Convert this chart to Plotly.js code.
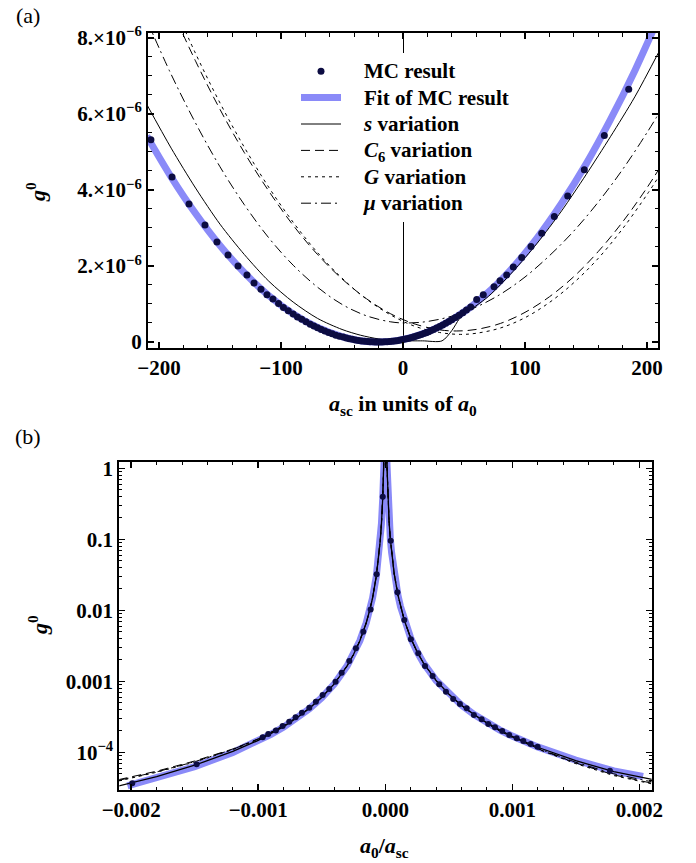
<!DOCTYPE html>
<html><head><meta charset="utf-8">
<script src="https://cdn.plot.ly/plotly-3.0.1.min.js"></script>
<style>body{margin:0;background:#fff}</style></head>
<body><div id="chart" style="width:696px;height:863px"></div>
<script>
// ---------- Panel (a): g0 (in units of 1e-6) vs a_sc (units of a0) ----------
const xMCa = [-206.6,-189.3,-175.4,-162.3,-152.5,-143.4,-135.2,-127.9,-122.1,-116.4,-111.5,-106.6,
  -102,-98,-94,-90,-86.5,-83,-79.5,-76,-73,-70,-67,-64,-61,-58,-55,-52,-49,-46.5,-44,-41.5,-39,-36.5,-34,-31.5,-29,-27,-25,-23,-21,
  -19,-17,-15,-13,-11,-9,-7,-5,-3,-1,1,3,5,7,9,11,13,15,17,19,21,23,25,27.5,30,32.5,35,37.5,40,43,46,49,52,55.5,
  60.4,65.8,74.6,79.5,85,90.4,97.3,104.9,113.7,124,135,148.6,165,185];
const yMCa = [5.32,4.34,3.63,3.08,2.63,2.29,2.0,1.76,1.55,1.39,1.24,1.13,
  1.01,0.91,0.82,0.735,0.66,0.60,0.53,0.47,0.42,0.375,0.33,0.29,0.25,0.22,0.18,0.15,0.13,0.105,0.086,0.069,0.054,0.041,0.029,0.020,0.012,0.007,0.004,0.001,0.0,
  0.0,0.001,0.004,0.008,0.013,0.02,0.027,0.036,0.047,0.058,0.071,0.086,0.10,0.118,0.136,0.156,0.176,0.198,0.222,0.246,0.272,0.30,0.328,0.365,0.405,0.446,0.49,0.536,0.583,0.643,0.706,0.771,0.84,0.923,
  1.12,1.24,1.455,1.61,1.76,1.97,2.22,2.51,2.86,3.30,3.84,4.53,5.43,6.65];

const xFitA = [-210,-190,-170,-150,-130,-110,-90,-70,-50,-35,-20,-5,10,30,50,70,90,110,130,150,170,190,210];
const yFitA = [5.42,4.34,3.38,2.54,1.82,1.22,0.74,0.38,0.14,0.034,0,0.036,0.146,0.405,0.79,1.31,1.96,2.74,3.65,4.68,5.85,7.14,8.57];

const xSa = [-210,-190,-170,-150,-130,-110,-90,-70,-50,-35,-20,-5,0,16,32,40,46,50,70,90,110,130,150,170,190,210];
const ySa = [6.25,5.1,4.05,3.1,2.3,1.6,1.05,0.62,0.33,0.18,0.08,0.03,0.03,0.03,0.03,0.3,0.6,0.72,1.2,1.85,2.6,3.45,4.4,5.4,6.45,7.65];

const xC6a = [-190,-170,-150,-130,-110,-90,-70,-50,-30,-10,10,30,44,60,80,100,120,140,160,180,200,210];
const yC6a = [8.78,7.39,6.12,4.98,3.97,3.07,2.30,1.66,1.14,0.74,0.47,0.32,0.29,0.33,0.49,0.78,1.19,1.72,2.38,3.16,4.06,4.56];

const xGa = [-190,-170,-150,-130,-110,-90,-70,-50,-30,-10,10,30,47,60,80,100,120,140,160,180,200,210];
const yGa = [9.02,7.59,6.29,5.12,4.07,3.15,2.35,1.68,1.13,0.71,0.41,0.25,0.2,0.23,0.37,0.64,1.04,1.56,2.2,2.98,3.88,4.37];

const xMuA = [-210,-190,-170,-150,-130,-110,-90,-70,-50,-30,-10,3,20,40,60,80,100,120,140,160,180,200,210];
const yMuA = [8.47,7.04,5.76,4.61,3.61,2.74,2.02,1.44,0.99,0.69,0.53,0.5,0.54,0.68,0.92,1.26,1.71,2.27,2.92,3.68,4.54,5.51,6.03];

const tickValsAy = [0,2,4,6,8];
const tickTextAy = ['0','2.×10<sup>−6</sup>','4.×10<sup>−6</sup>','6.×10<sup>−6</sup>','8.×10<sup>−6</sup>'];
const tickValsAx = [-200,-100,0,100,200];
const tickTextAx = ['−200','−100','0','100','200'];

// ---------- Panel (b): g0 vs a0/a_sc ----------
const uMCb = [-1.992e-3,-1.485e-3,-0.965e-3,-0.921e-3,-0.861e-3,-0.808e-3,-0.756e-3,-0.706e-3,-0.656e-3,-0.598e-3,-0.546e-3,-0.493e-3,-0.441e-3,-0.391e-3,-0.343e-3,-0.283e-3,-0.231e-3,-0.173e-3,-0.115e-3,-0.068e-3,-0.0195e-3,
  0.043e-3,0.096e-3,0.150e-3,0.202e-3,0.260e-3,0.313e-3,0.373e-3,0.425e-3,0.478e-3,0.535e-3,0.588e-3,0.641e-3,0.698e-3,0.759e-3,0.811e-3,0.864e-3,0.921e-3,0.976e-3,1.035e-3,1.087e-3,1.145e-3,1.2e-3,1.769e-3];
const gMCb = [3.66e-5,6.78e-5,1.63e-4,1.81e-4,2.02e-4,2.35e-4,2.70e-4,3.11e-4,3.61e-4,4.25e-4,5.16e-4,6.42e-4,7.8e-4,9.87e-4,1.32e-3,1.93e-3,2.92e-3,5.0e-3,1.03e-2,3.21e-2,0.398,
  0.0955,1.80e-2,7.3e-3,3.91e-3,2.48e-3,1.64e-3,1.19e-3,9.08e-4,7.14e-4,5.63e-4,4.79e-4,4.17e-4,3.35e-4,2.92e-4,2.50e-4,2.25e-4,2.0e-4,1.75e-4,1.57e-4,1.44e-4,1.31e-4,1.2e-4,5.51e-5];

const uFitB = [-0.00203,-0.0018,-0.0015,-0.0012,-0.001,-0.0009,-0.0008,-0.0007,-0.0006,-0.0005,-0.0004,-0.0003,-0.00025,-0.0002,-0.00015,-0.00012,-0.0001,-0.00007,-0.00005,-0.00004,-0.00003,-0.00002,-0.00001,-0.000005,
  0.000005,0.00001,0.00002,0.00003,0.00004,0.00005,0.00007,0.0001,0.00012,0.00015,0.0002,0.00025,0.0003,0.0004,0.0005,0.0006,0.0007,0.0008,0.0009,0.001,0.0012,0.0015,0.0018,0.00203];
const gFitB = [3.35e-5,4.30e-5,6.27e-5,9.92e-5,1.44e-4,1.79e-4,2.27e-4,2.98e-4,4.07e-4,5.88e-4,9.23e-4,1.65e-3,2.38e-3,3.72e-3,6.63e-3,1.04e-2,1.49e-2,3.05e-2,5.99e-2,9.36e-2,0.166,0.375,1.5,6.0,
  6.5,1.62,0.405,0.180,0.101,0.0649,0.0332,0.0163,0.0113,7.24e-3,4.08e-3,2.62e-3,1.82e-3,1.03e-3,6.61e-4,4.61e-4,3.40e-4,2.61e-4,2.07e-4,1.69e-4,1.19e-4,7.75e-5,5.45e-5,4.55e-5];

const uB = [-0.0021,-0.0018,-0.0015,-0.0012,-0.001,-0.0009,-0.0008,-0.0007,-0.0006,-0.0005,-0.0004,-0.0003,-0.00025,-0.0002,-0.00015,-0.00012,-0.0001,-0.00007,-0.00005,-0.00004,-0.00003,-0.00002,-0.00001,-0.000005,
  0.000005,0.00001,0.00002,0.00003,0.00004,0.00005,0.00007,0.0001,0.00012,0.00015,0.0002,0.00025,0.0003,0.0004,0.0005,0.0006,0.0007,0.0008,0.0009,0.001,0.0012,0.0015,0.0018,0.0021];
const gSb = [3.34e-5,4.55e-5,6.57e-5,1.027e-4,1.473e-4,1.82e-4,2.30e-4,3.02e-4,4.11e-4,5.92e-4,9.27e-4,1.65e-3,2.38e-3,3.72e-3,6.63e-3,1.04e-2,1.49e-2,3.05e-2,5.99e-2,9.36e-2,0.166,0.375,1.5,6.0,
  6.5,1.62,0.405,0.180,0.101,0.0649,0.0332,0.0163,0.0113,7.24e-3,4.08e-3,2.62e-3,1.82e-3,1.03e-3,6.61e-4,4.61e-4,3.40e-4,2.61e-4,2.07e-4,1.678e-4,1.177e-4,7.61e-5,5.32e-5,4.15e-5];
const gC6b = [4.11e-5,5.41e-5,7.54e-5,1.113e-4,1.544e-4,1.896e-4,2.377e-4,3.08e-4,4.16e-4,5.96e-4,9.29e-4,1.65e-3,2.38e-3,3.72e-3,6.63e-3,1.04e-2,1.49e-2,3.05e-2,5.99e-2,9.36e-2,0.166,0.375,1.5,6.0,
  6.5,1.62,0.405,0.180,0.101,0.0649,0.0332,0.0163,0.0113,7.24e-3,4.08e-3,2.62e-3,1.82e-3,1.03e-3,6.56e-4,4.56e-4,3.35e-4,2.55e-4,2.014e-4,1.632e-4,1.123e-4,7.07e-5,4.80e-5,3.66e-5];
const gGb = [3.93e-5,5.23e-5,7.28e-5,1.087e-4,1.525e-4,1.874e-4,2.356e-4,3.06e-4,4.15e-4,5.95e-4,9.28e-4,1.65e-3,2.38e-3,3.72e-3,6.63e-3,1.04e-2,1.49e-2,3.05e-2,5.99e-2,9.36e-2,0.166,0.375,1.5,6.0,
  6.5,1.62,0.405,0.180,0.101,0.0649,0.0332,0.0163,0.0113,7.24e-3,4.08e-3,2.62e-3,1.82e-3,1.03e-3,6.56e-4,4.55e-4,3.34e-4,2.545e-4,2.004e-4,1.621e-4,1.11e-4,6.91e-5,4.69e-5,3.58e-5];
const gMub = [4.02e-5,5.29e-5,7.37e-5,1.100e-4,1.536e-4,1.883e-4,2.365e-4,3.07e-4,4.16e-4,5.95e-4,9.28e-4,1.65e-3,2.38e-3,3.72e-3,6.63e-3,1.04e-2,1.49e-2,3.05e-2,5.99e-2,9.36e-2,0.166,0.375,1.5,6.0,
  6.5,1.62,0.405,0.180,0.101,0.0649,0.0332,0.0163,0.0113,7.24e-3,4.08e-3,2.62e-3,1.82e-3,1.03e-3,6.58e-4,4.58e-4,3.36e-4,2.568e-4,2.028e-4,1.644e-4,1.136e-4,7.23e-5,4.97e-5,3.83e-5];

const tickValsBy = [1e-4,1e-3,1e-2,0.1,1];
const tickTextBy = ['10<sup>−4</sup>','0.001','0.01','0.1','1'];
const tickValsBx = [-0.002,-0.001,0,0.001,0.002];
const tickTextBx = ['−0.002','−0.001','0.000','0.001','0.002'];

const legendNames = ['MC result','Fit of MC result','<i>s</i> variation','<i>C</i><sub>6</sub> variation','<i>G</i> variation','<i>μ</i> variation'];

// ---------- styling ----------
const FAM = 'Liberation Serif, Times New Roman, serif';
const fitColor = 'rgb(138,138,248)';
const dotColor = '#0c0c42';
const lg = s => '\u00a0\u00a0\u00a0\u00a0<span style="font-size:21px">' + s + '</span>';

const traces = [
  {x:xFitA, y:yFitA, xaxis:'x', yaxis:'y', mode:'lines', line:{color:fitColor, width:7, shape:'spline'}, name:lg(legendNames[1]), legendrank:2},
  {x:xSa, y:ySa, xaxis:'x', yaxis:'y', mode:'lines', line:{color:'#000', width:1, shape:'spline', smoothing:0.8}, name:lg(legendNames[2]), legendrank:3},
  {x:xC6a, y:yC6a, xaxis:'x', yaxis:'y', mode:'lines', line:{color:'#000', width:1, dash:'9px,5px', shape:'spline'}, name:lg(legendNames[3]), legendrank:4},
  {x:xGa, y:yGa, xaxis:'x', yaxis:'y', mode:'lines', line:{color:'#000', width:1, dash:'3px,4px', shape:'spline'}, name:lg(legendNames[4]), legendrank:5},
  {x:xMuA, y:yMuA, xaxis:'x', yaxis:'y', mode:'lines', line:{color:'#000', width:1, dash:'10px,4px,2px,4px', shape:'spline'}, name:lg(legendNames[5]), legendrank:6},
  {x:xMCa, y:yMCa, xaxis:'x', yaxis:'y', mode:'markers', marker:{color:dotColor, size:7}, name:lg(legendNames[0]), legendrank:1},

  {x:uFitB, y:gFitB, xaxis:'x2', yaxis:'y2', mode:'lines', line:{color:fitColor, width:7}, showlegend:false},
  {x:uB, y:gC6b, xaxis:'x2', yaxis:'y2', mode:'lines', line:{color:'#000', width:1, dash:'9px,5px'}, showlegend:false},
  {x:uB, y:gGb, xaxis:'x2', yaxis:'y2', mode:'lines', line:{color:'#000', width:1, dash:'3px,4px'}, showlegend:false},
  {x:uB, y:gMub, xaxis:'x2', yaxis:'y2', mode:'lines', line:{color:'#000', width:1, dash:'10px,4px,2px,4px'}, showlegend:false},
  {x:uB, y:gSb, xaxis:'x2', yaxis:'y2', mode:'lines', line:{color:'#000', width:1.3}, showlegend:false},
  {x:uMCb, y:gMCb, xaxis:'x2', yaxis:'y2', mode:'markers', marker:{color:dotColor, size:6}, showlegend:false}
];

const tickFont = {family:FAM, size:21, color:'#000', weight:700};
const baseAxis = {showline:true, linewidth:2, linecolor:'#000', mirror:'ticks', ticks:'inside', ticklen:6, tickwidth:1.5, tickcolor:'#000',
  showgrid:false, zeroline:false, tickfont:tickFont, tickmode:'array', fixedrange:true};

const minorLog = [];
for (let k = -5; k <= 0; k++) for (let d = 2; d <= 9; d++) minorLog.push(d * Math.pow(10, k));

const W = 696, H = 863;
const px = v => v / W, py = v => 1 - v / H;

const layout = {
  width: W, height: H, margin:{l:0, r:0, t:0, b:0}, paper_bgcolor:'#fff', plot_bgcolor:'#fff',
  showlegend:true,
  xaxis: Object.assign({}, baseAxis, {domain:[px(148), px(658)], range:[-209, 209], anchor:'y',
    tickvals:tickValsAx, ticktext:tickTextAx, zeroline:true, zerolinecolor:'#000', zerolinewidth:1,
    minor:{ticks:'inside', ticklen:3.5, tickwidth:1, tickcolor:'#000', tickmode:'linear', tick0:0, dtick:20, showgrid:false}}),
  yaxis: Object.assign({}, baseAxis, {domain:[py(348), py(33)], range:[-0.158, 8.13], anchor:'x',
    tickvals:tickValsAy, ticktext:tickTextAy,
    minor:{ticks:'inside', ticklen:3.5, tickwidth:1, tickcolor:'#000', tickmode:'linear', tick0:0, dtick:0.5, showgrid:false}}),
  xaxis2: Object.assign({}, baseAxis, {domain:[px(119.3), px(651.7)], range:[-0.002094, 0.002098], anchor:'y2',
    tickvals:tickValsBx, ticktext:tickTextBx,
    minor:{ticks:'inside', ticklen:3.5, tickwidth:1, tickcolor:'#000', tickmode:'linear', tick0:0, dtick:0.0002, showgrid:false}}),
  yaxis2: Object.assign({}, baseAxis, {type:'log', domain:[py(790), py(461.7)], range:[Math.log10(2.94e-5), Math.log10(1.24)], anchor:'x2',
    tickvals:tickValsBy, ticktext:tickTextBy,
    minor:{ticks:'inside', ticklen:3, tickwidth:1, tickcolor:'#000', tickmode:'array', tickvals:minorLog, showgrid:false}}),
  legend:{x:px(296), y:py(53), xanchor:'left', yanchor:'top', bgcolor:'#fff', borderwidth:0,
    font:{family:FAM, size:18, color:'#000', weight:700}, itemwidth:40, tracegroupgap:0, traceorder:'normal'},
  annotations:[
    {text:'(a)', x:px(28), y:py(15), xref:'paper', yref:'paper', showarrow:false, xanchor:'center', yanchor:'middle',
      font:{family:FAM, size:22, color:'#000'}},
    {text:'(b)', x:px(28), y:py(436), xref:'paper', yref:'paper', showarrow:false, xanchor:'center', yanchor:'middle',
      font:{family:FAM, size:22, color:'#000'}},
    {text:'<i>g</i><sup>0</sup>', x:px(36), y:py(192), xref:'paper', yref:'paper', showarrow:false, textangle:-90,
      xanchor:'center', yanchor:'middle', font:{family:FAM, size:22, color:'#000', weight:700}},
    {text:'<i>a</i><sub>sc</sub> in units of <i>a</i><sub>0</sub>', x:px(403), y:py(405), xref:'paper', yref:'paper', showarrow:false,
      xanchor:'center', yanchor:'middle', font:{family:FAM, size:22, color:'#000', weight:700}},
    {text:'<i>g</i><sup>0</sup>', x:px(38), y:py(625), xref:'paper', yref:'paper', showarrow:false, textangle:-90,
      xanchor:'center', yanchor:'middle', font:{family:FAM, size:22, color:'#000', weight:700}},
    {text:'<i>a</i><sub>0</sub>/<i>a</i><sub>sc</sub>', x:px(385), y:py(847), xref:'paper', yref:'paper', showarrow:false,
      xanchor:'center', yanchor:'middle', font:{family:FAM, size:22, color:'#000', weight:700}}
  ]
};

Plotly.newPlot('chart', traces, layout, {displayModeBar:false, staticPlot:true});
</script></body></html>
